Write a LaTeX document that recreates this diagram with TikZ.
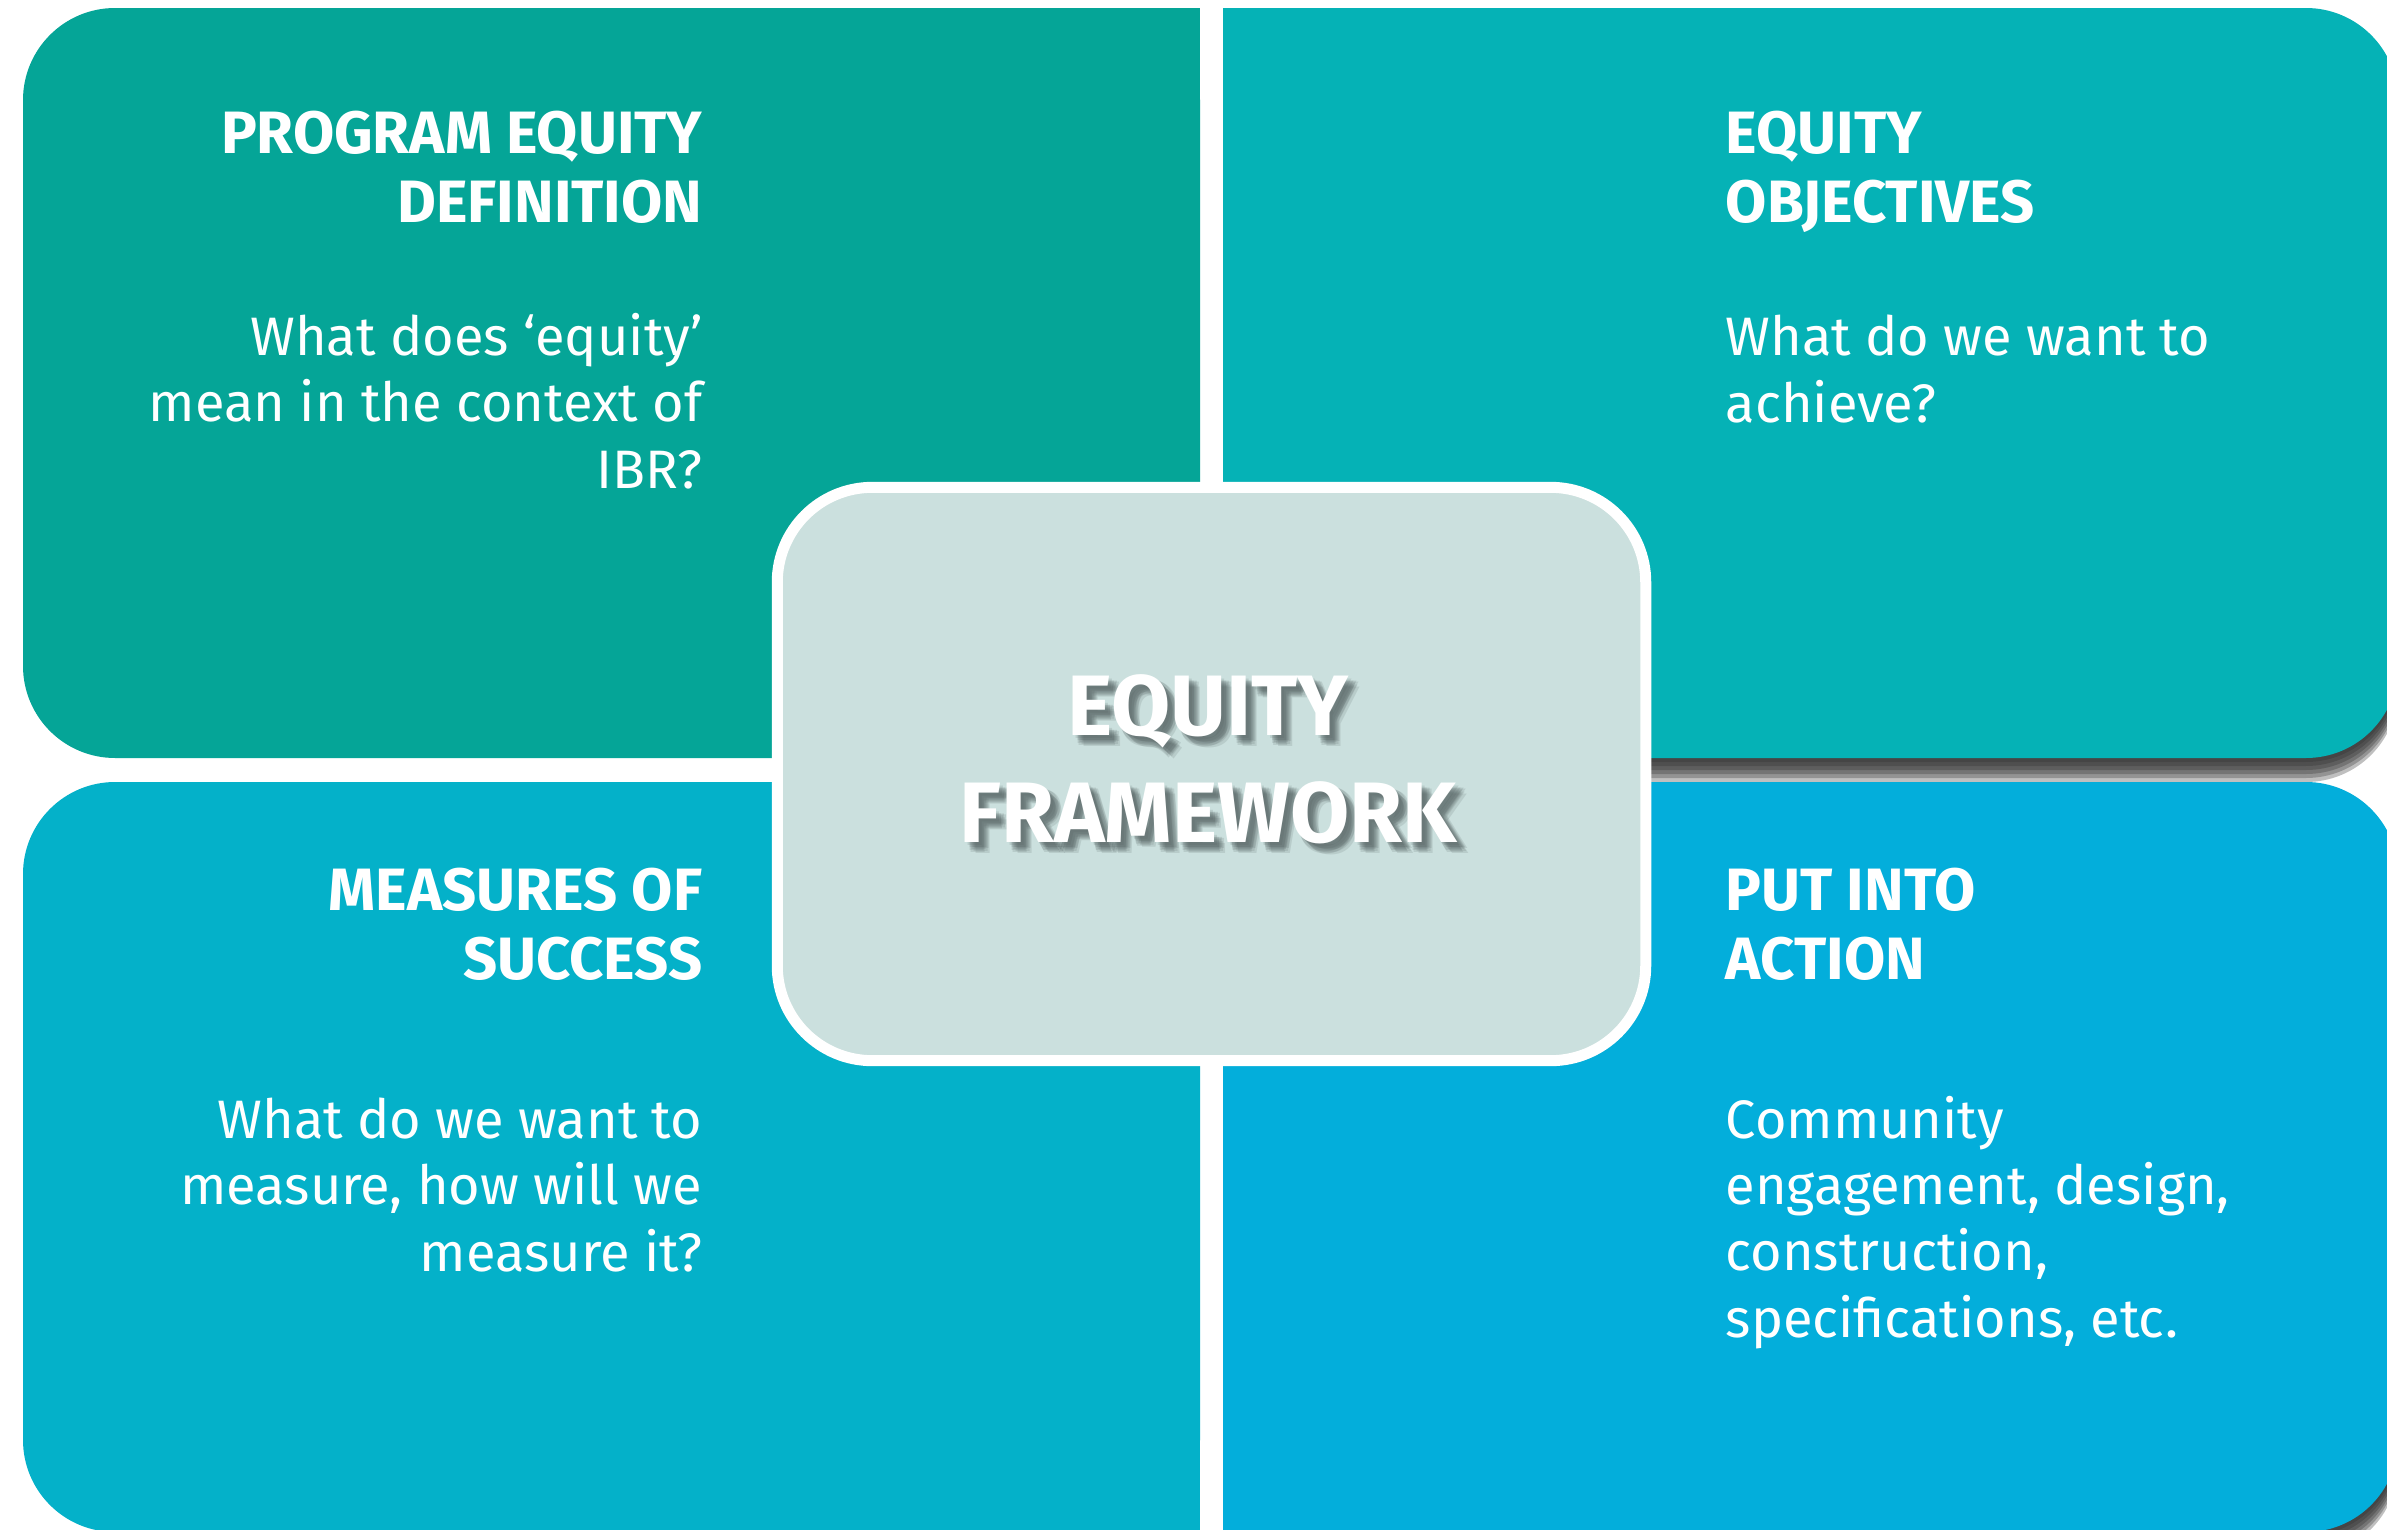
\documentclass[tikz,border=0pt]{standalone}
\usepackage{fontspec}
\setmainfont{Fira Sans}
\usetikzlibrary{positioning}
\definecolor{defteal}{HTML}{05A597}
\definecolor{objteal}{HTML}{05B2B6}
\definecolor{meascyan}{HTML}{04B1C9}
\definecolor{actblue}{HTML}{03AEDB}
\definecolor{corefill}{HTML}{CBE0DE}
\definecolor{boxshade}{HTML}{2E2E2E}
\definecolor{textshade}{HTML}{4F5C5C}

\begin{document}
\begin{tikzpicture}[x=0.01cm, y=-0.01cm,
  quad_head/.style={text=white, inner sep=0pt, font=\fontsize{17}{19.6}\selectfont\bfseries},
  quad_text/.style={text=white, inner sep=0pt, font=\fontsize{15.4}{18.8}\selectfont},
  core_box/.style={draw=white, line width=0.11cm, fill=corefill, rounded corners=0.95cm, minimum width=8.68cm, minimum height=5.73cm, inner sep=0pt},
  core_label/.style={align=center, inner sep=0pt, font=\fontsize{24.4}{30.4}\selectfont\bfseries}]
	\useasboundingbox (0,0) rectangle (2387,1530);
	\fill[white] (0,0) rectangle (2387,1530);
	% shadows of the right hand boxes
	\foreach \s in {4,8,...,24}
		\fill[boxshade, opacity=0.3, rounded corners=0.92cm] (1223,8+\s) rectangle (2398,758+\s);
	\fill[objteal, rounded corners=0.92cm] (1223,8) rectangle (2398,758);
	\fill[objteal] (1223,8) rectangle (1800,758);
	\foreach \s in {4,8,...,24}
		\fill[boxshade, opacity=0.3, rounded corners=0.92cm] (1223,782+\s) rectangle (2398,1532+\s);
	\fill[actblue, rounded corners=0.92cm] (1223,782) rectangle (2398,1532);
	\fill[actblue] (1223,782) rectangle (1800,1532);
	% left hand boxes
	\fill[defteal, rounded corners=0.92cm] (23,8) rectangle (1200,758);
	\fill[defteal] (600,8) rectangle (1200,758);
	\fill[meascyan, rounded corners=0.92cm] (23,782) rectangle (1200,1532);
	\fill[meascyan] (600,782) rectangle (1200,1532);
	% texts (base = last line)
	\node[quad_head, align=right, anchor=base east] (defhead) at (703,222) {PROGRAM EQUITY\\DEFINITION};
	\node[quad_text, align=right, anchor=base east] (deftext) at (703,488) {What does ‘equity’\\mean in the context of\\IBR?};
	\node[quad_head, align=left, anchor=base west] (objhead) at (1725,222) {EQUITY\\OBJECTIVES};
	\node[quad_text, align=left, anchor=base west] (objtext) at (1725,422) {What do we want to\\achieve?};
	\node[quad_head, align=right, anchor=base east] (meashead) at (703,979) {MEASURES OF\\SUCCESS};
	\node[quad_text, align=right, anchor=base east] (meastext) at (703,1271) {What do we want to\\measure, how will we\\measure it?};
	\node[quad_head, align=left, anchor=base west] (acthead) at (1725,979) {PUT INTO\\ACTION};
	\node[quad_text, align=left, anchor=base west] (acttext) at (1725,1337) {Community\\engagement, design,\\construction,\\specifications, etc.};
	% centre
	\node[core_box] (core) at (1211.5,774) {};
	\foreach \dx/\dy in {3/3,5/5,7/7,9/9,11/11,5/8,8/5,6/10,10/6}
		\node[core_label, text=textshade, text opacity=0.15, anchor=base] at (1208+\dx,842+\dy) {EQUITY\\FRAMEWORK};
	\node[core_label, text=white, anchor=base] (corelabel) at (1208,842) {EQUITY\\FRAMEWORK};
\end{tikzpicture}
\end{document}
